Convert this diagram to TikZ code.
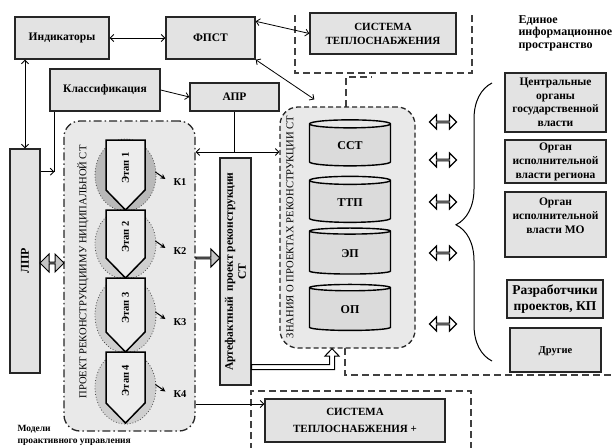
\documentclass[tikz,border=0pt]{standalone}
\usepackage{fontspec}
\setmainfont{Liberation Serif}
\usetikzlibrary{shapes.geometric,shapes.arrows,calc,decorations.pathreplacing,arrows.meta,shadows}
\begin{document}
\begin{tikzpicture}[x=1pt,y=-1pt,
 >={Straight Barb[length=3.5pt,width=7pt]},
 box/.style={draw=black!85, line width=1.4pt, fill=gray!22, align=center, inner sep=1pt,
   drop shadow={shadow xshift=0.8pt, shadow yshift=-0.8pt, opacity=0.3}},
 fnt/.style 2 args={font=\bfseries\fontsize{#1}{#2}\selectfont},
 rfnt/.style={font=\fontsize{10.6}{12}\selectfont},
 conn/.style={line width=0.8pt},
 dsh/.style={draw=black!75, line width=1.1pt, dash pattern=on 7pt off 4pt},
 cyl/.style={cylinder, shape border rotate=90, draw, line width=1.4pt, aspect=0.25,
   minimum width=81pt, minimum height=46pt, cylinder uses custom fill,
   cylinder body fill=gray!28, cylinder end fill=gray!18, fnt={12}{13}},
 fatdbl/.style={double arrow, draw, line width=1pt, fill=gray!45, inner sep=0pt,
   minimum height=24pt, minimum width=18pt, double arrow head extend=5pt},
 fatsgl/.style={single arrow, draw, line width=1pt, fill=gray!45, inner sep=0pt,
   minimum height=24pt, minimum width=18pt, single arrow head extend=5pt},
 hollowdbl/.style={double arrow, draw, line width=1.1pt, fill=white, inner sep=0pt,
   minimum height=27pt, minimum width=14pt, double arrow head extend=4pt},
]
\useasboundingbox (0,0) rectangle (612,447);

% dashed frames
\draw[dsh] (295,15) -- (295,73) -- (472,73) -- (472,12);
\draw[dsh] (346,107) -- (346,77) -- (372,77);
\draw[dsh] (345,348) -- (345,375) -- (612,375);
\draw[dsh] (251,450) -- (251,391) -- (471,391) -- (471,450);

% containers
\node[draw=black!85, line width=1.3pt, rounded corners=16pt, fill=gray!17,
  dash pattern=on 8pt off 3pt on 1.5pt off 3pt,
  minimum width=131pt, minimum height=310pt] (proj) at (129.5,276) {};
\node[rfnt, rotate=90] (projt) at (83,272) {ПРОЕКТ РЕКОНСТРУКЦИИМУ НИЦИПАЛЬНОЙ СТ};
\node[draw=black!85, line width=1.3pt, rounded corners=18pt, fill=gray!17,
  dash pattern=on 5pt off 3pt,
  minimum width=135pt, minimum height=241pt] (kn) at (347.5,227.5) {};
\node[rfnt, rotate=90] (knt) at (291,227) {ЗНАНИЯ О ПРОЕКТАХ РЕКОНСТРУКЦИИ СТ};

% cylinders
\node[cyl] (c1) at (350,146) {ССТ};
\node[cyl] (c2) at (350,202.5) {ТТП};
\node[cyl] (c3) at (350,253.5) {ЭП};
\node[cyl] (c4) at (350,310) {ОП};

% boxes
\node[box, fnt={11.5}{13}, minimum width=94pt, minimum height=42pt] (ind) at (62,38) {Индикаторы};
\node[box, fnt={11.5}{13}, minimum width=89pt, minimum height=42pt] (fpst) at (210.5,38) {ФПСТ};
\node[box, fnt={11}{14}, minimum width=146pt, minimum height=41pt] (st) at (383,33.5) {СИСТЕМА\\ТЕПЛОСНАБЖЕНИЯ};
\node[box, fnt={11.5}{13}, minimum width=110pt, minimum height=42pt] (klass) at (105,90) {Классификация};
\node[box, fnt={11.5}{13}, minimum width=89pt, minimum height=28pt] (apr) at (234.5,97) {АПР};
\node[box, minimum width=30pt, minimum height=224pt] (lpr) at (25,261) {};
\node[fnt={12}{13}, rotate=90] (lprt) at (lpr.center) {ЛПР};
\node[box, minimum width=31pt, minimum height=227pt] (art) at (235.5,271.5) {};
\node[fnt={11.5}{13}, rotate=90, align=center] (artt) at (art.center) {Артефактный\ \ проект реконструкции\\СТ};
\node[box, fnt={11}{17}, minimum width=180pt, minimum height=43pt] (stp) at (355,420.5) {СИСТЕМА\\ТЕПЛОСНАБЖЕНИЯ +};

\node[box, fnt={11.5}{13.5}, minimum width=101pt, minimum height=59pt] (r1) at (555.5,102.5) {Центральные\\органы\\государственной\\власти};
\node[box, fnt={11.5}{14}, minimum width=101pt, minimum height=43pt] (r2) at (555.5,161.5) {Орган\\исполнительной\\власти региона};
\node[box, fnt={11.5}{14}, minimum width=101pt, minimum height=65pt] (r3) at (555.5,224.5) {Орган\\исполнительной\\власти МО\\[4pt]};
\node[box, fnt={13.5}{16}, minimum width=96pt, minimum height=38pt] (r4) at (555,299) {Разработчики\\проектов, КП};
\node[box, fnt={10.5}{12}, minimum width=91pt, minimum height=44pt] (r5) at (555.5,350) {\\[-2pt]Другие};

% stages
\foreach \i/\t/\b/\c in {1/140/210/gray!55, 2/210/278/gray!38, 3/278/352/gray!38, 4/352/423/gray!38}{
  \node[ellipse, draw=black!70, dotted, line width=0.8pt, fill=\c, inner sep=0pt,
    minimum width=61pt, minimum height={\b-\t+2}] (e\i) at (125.5,{(\t+\b)/2}) {};
}
\foreach \i/\t/\b in {1/140/210, 2/210/278, 3/278/352, 4/352/423}{
  \draw[line width=1.5pt, fill=gray!14] (106,\t) -- (145,\t) -- (145,{\b-20}) -- (125.5,\b) -- (106,{\b-20}) -- cycle;
  \node[fnt={10.5}{12}, rotate=90] (s\i) at (125.5,{\t+(\b-\t-20)/2+3}) {Этап \i};
  \node[fnt={10.5}{12}] (k\i) at (180,{(\t+\b)/2+7}) {К\i};
  \draw[line width=1pt, -{Stealth[length=5pt,width=5pt]}] ($(e\i.east)+(-1,-3)$) -- ++(10,7);
}

% fat arrows
\path (lpr.east |- 0,263) -- (proj.west |- 0,263) node[midway, fatdbl] (a1) {};
\path (proj.east |- 0,258) -- (art.west |- 0,258) node[midway, fatsgl] (a2) {};
\draw[line width=1pt, fill=white] (art.east |- 0,364.5) -- (329.5,364.5) -- (329.5,356) -- (325,356)
  -- (332,0 |- kn.south) -- (339,356) -- (334.5,356) -- (334.5,369.5) -- (art.east |- 0,369.5) -- cycle;

% hollow double arrows
\foreach \y [count=\n] in {122,160,202,253,324}{
  \node[hollowdbl] (h\n) at (443,\y) {};
}

% brace
\draw[line width=1pt, decorate, decoration={brace, amplitude=36pt, aspect=0.49}] (492,361) -- (492,83);

% connectors
\draw[conn, <->] (ind) -- (fpst);
\draw[conn, <->] ($(fpst.north east)+(0,5)$) -- (st.west);
\draw[conn, <->] (fpst.south east) -- ($(kn.north west)+(35,-7)$);
\draw[conn, <->] (lpr.north) -- (lpr.north |- ind.south);
\coordinate (kc) at ($(klass.south west)+(5,60)$);
\draw[conn] ($(klass.south west)+(5,0)$) -- (kc);
\draw[conn, ->] (lpr.east |- kc) -- (kc);
\draw[conn, ->] (klass.east) -- (apr.west);
\draw[conn] (apr.south) -- (apr.south |- 0,152);
\draw[conn, <->] (proj.east |- 0,152) -- (kn.west |- 0,152);
\draw[conn, ->] (proj.east |- 0,404) -- (stp.west |- 0,404);

% free texts
\node[fnt={12}{12.5}, anchor=north west, align=left] (eip) at (515,12) {Единое\\информационное\\пространство};
\node[fnt={9.5}{12}, anchor=north west, align=left] (mod) at (14,422) {Модели\\проактивного управления};
\end{tikzpicture}
\end{document}
